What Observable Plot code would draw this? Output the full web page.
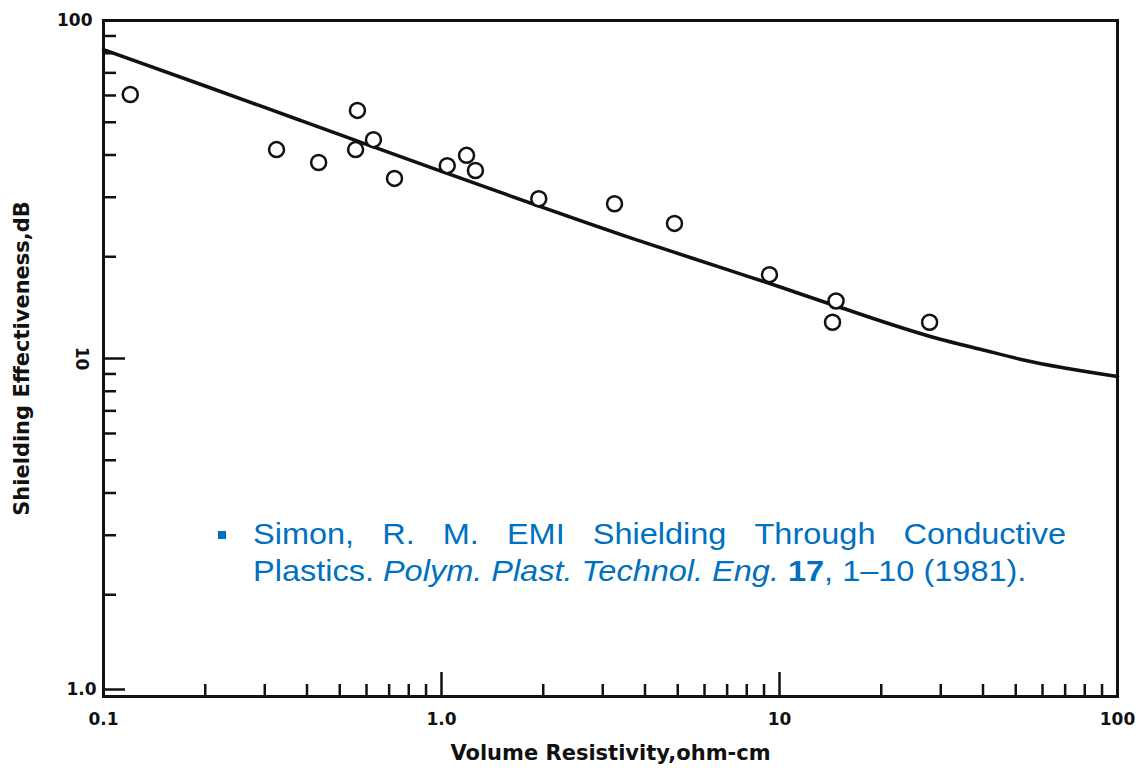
<!DOCTYPE html>
<html>
<head>
<meta charset="utf-8">
<script src="https://cdn.jsdelivr.net/npm/d3@7"></script>
<script src="https://cdn.jsdelivr.net/npm/@observablehq/plot@0.6"></script>
<style>
  body { margin: 0; background: #fff; }
  #chart { position: relative; width: 1142px; height: 772px; }
  #chart svg { display: block; }
  .cite-bullet {
    position: absolute; left: 218px; top: 531px; width: 8px; height: 8px;
    background: #0070c0;
  }
  .cite {
    position: absolute; left: 253px; top: 516px; width: 726px;
    transform: scaleX(1.12); transform-origin: left top;
    font-family: "Liberation Sans", Arial, sans-serif; font-size: 29px; line-height: 37px;
    color: #0070c0;
  }
  .cite .line1 { display: flex; justify-content: space-between; white-space: nowrap; }
  .cite .line2 { display: block; white-space: nowrap; }
</style>
</head>
<body>
<div id="chart"></div>
<script>
// Measured samples: shielding effectiveness (dB) against volume resistivity (ohm-cm)
const resistivity = [0.12, 0.325, 0.433, 0.564, 0.557, 0.629, 0.726, 1.04, 1.186, 1.26, 1.94, 3.25, 4.89, 9.34, 14.7, 14.35, 27.8];
const effectiveness = [60.4, 41.5, 38.0, 54.2, 41.5, 44.4, 34.1, 37.2, 39.9, 36.0, 29.7, 28.7, 25.1, 17.7, 14.8, 12.8, 12.8];

// Theoretical curve
const curveResistivity = [0.1, 0.2, 0.383, 0.557, 1.0, 1.495, 3.7, 6.69, 10, 14.7, 29.9, 39.3, 52.7, 100];
const curveEffectiveness = [82, 64, 50.6, 44.2, 35.8, 31.0, 22.6, 18.6, 16.3, 14.3, 11.4, 10.65, 9.9, 8.85];

// Axis ticks and their labels
const xMajor = [0.1, 1, 10, 100];
const xMajorLabels = ["0.1", "1.0", "10", "100"];
const xMinor = [0.2, 0.3, 0.4, 0.5, 0.6, 0.7, 0.8, 0.9, 2, 3, 4, 5, 6, 7, 8, 9, 20, 30, 40, 50, 60, 70, 80, 90];
const yMajor = [1, 10, 100];
const yMajorLabels = ["1.0", "10", "100"];
const yMinor = [2, 3, 4, 5, 6, 7, 8, 9, 20, 30, 40, 50, 60, 70, 80, 90];

const points = resistivity.map((x, i) => ({x, y: effectiveness[i]}));
const curve = curveResistivity.map((x, i) => ({x, y: curveEffectiveness[i]}));
const xLabel = new Map(xMajor.map((d, i) => [d, xMajorLabels[i]]));
const yLabel = new Map(yMajor.map((d, i) => [d, yMajorLabels[i]]));

const ink = "#111";

const chart = Plot.plot({
  width: 1142,
  height: 772,
  marginLeft: 103,
  marginRight: 25,
  marginTop: 20,
  marginBottom: 76,
  style: {fontFamily: "DejaVu Sans", fontWeight: "bold", fontSize: "17px", color: ink, background: "#fff"},
  x: {type: "log", domain: [0.1, 100]},
  y: {type: "log", domain: [1, 100]},
  marks: [
    Plot.frame({stroke: ink, strokeWidth: 3}),
    // inward-pointing ticks
    Plot.axisX(xMinor, {anchor: "bottom", tickSize: -12, tickFormat: () => "", strokeWidth: 2.5, label: null}),
    Plot.axisX(xMajor, {anchor: "bottom", tickSize: -24, tickPadding: 40, tickFormat: d => xLabel.get(d),
      strokeWidth: 2.5, label: null}),
    Plot.axisY(yMinor, {anchor: "left", tickSize: -13, tickFormat: () => "", strokeWidth: 2.5, label: null}),
    Plot.axisY([100], {anchor: "left", tickSize: -22, tickPadding: 33, tickFormat: d => yLabel.get(d),
      strokeWidth: 2.5, label: null}),
    Plot.axisY([1], {anchor: "left", tickSize: -22, tickPadding: 29, tickFormat: d => yLabel.get(d),
      strokeWidth: 2.5, dy: -7, label: null}),
    Plot.axisY([10], {anchor: "left", tickSize: -22, tickFormat: () => "", strokeWidth: 2.5, label: null}),
    Plot.text([10], {y: d => d, frameAnchor: "left", dx: -22, rotate: 90, text: d => yLabel.get(d),
      textAnchor: "middle", lineAnchor: "middle"}),
    // axis titles
    Plot.text(["Volume Resistivity,ohm-cm"], {frameAnchor: "bottom", dy: 57, text: d => d,
      fontSize: 21, textAnchor: "middle", lineAnchor: "middle"}),
    Plot.text(["Shielding Effectiveness,dB"], {frameAnchor: "left", dx: -81, rotate: -90, text: d => d,
      fontSize: 21, textAnchor: "middle", lineAnchor: "middle"}),
    Plot.line(curve, {x: "x", y: "y", curve: "monotone-x", stroke: ink, strokeWidth: 3.5}),
    Plot.dot(points, {x: "x", y: "y", r: 7.5, stroke: ink, strokeWidth: 2.5, fill: "#fff"})
  ]
});

const host = document.getElementById("chart");
host.append(chart);

const bullet = document.createElement("div");
bullet.className = "cite-bullet";
host.append(bullet);

const cite = document.createElement("div");
cite.className = "cite";
const firstLine = "Simon, R. M. EMI Shielding Through Conductive".split(" ")
  .map(w => `<span>${w}</span>`).join("");
cite.innerHTML =
  `<span class="line1">${firstLine}</span>` +
  '<span class="line2">Plastics. <i>Polym. Plast. Technol. Eng.</i> <b>17</b>, 1–10 (1981).</span>';
host.append(cite);
</script>
</body>
</html>
